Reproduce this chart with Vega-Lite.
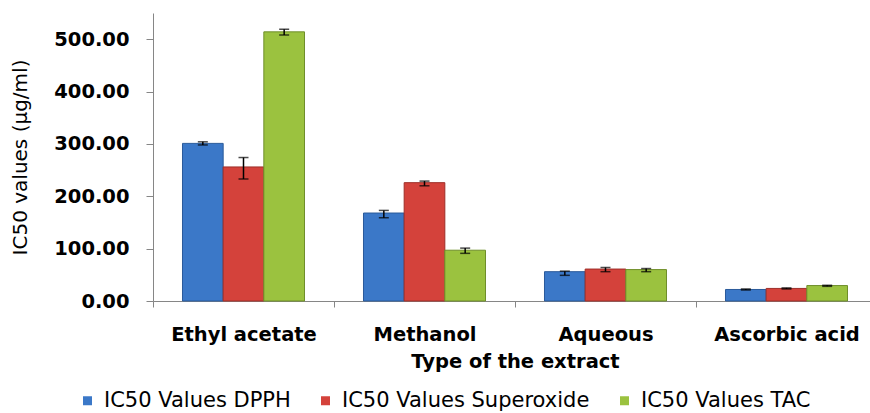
{
  "$schema": "https://vega.github.io/schema/vega-lite/v6.json",
  "width": 717,
  "height": 288,
  "autosize": {"type": "none"},
  "padding": {"left": 153, "top": 13, "right": 0, "bottom": 112},
  "background": "white",
  "config": {"view": {"stroke": null}, "font": "DejaVu Sans"},
  "data": {
    "values": [
      {"extract": "Ethyl acetate", "series": "IC50 Values DPPH", "value": 301, "lo": 298, "hi": 304},
      {"extract": "Ethyl acetate", "series": "IC50 Values Superoxide", "value": 256, "lo": 233, "hi": 274},
      {"extract": "Ethyl acetate", "series": "IC50 Values TAC", "value": 514, "lo": 508, "hi": 519},
      {"extract": "Methanol", "series": "IC50 Values DPPH", "value": 168, "lo": 159, "hi": 173},
      {"extract": "Methanol", "series": "IC50 Values Superoxide", "value": 226, "lo": 220, "hi": 229},
      {"extract": "Methanol", "series": "IC50 Values TAC", "value": 97, "lo": 91, "hi": 101},
      {"extract": "Aqueous", "series": "IC50 Values DPPH", "value": 56, "lo": 49, "hi": 57},
      {"extract": "Aqueous", "series": "IC50 Values Superoxide", "value": 61, "lo": 56, "hi": 64},
      {"extract": "Aqueous", "series": "IC50 Values TAC", "value": 60, "lo": 56, "hi": 62},
      {"extract": "Ascorbic acid", "series": "IC50 Values DPPH", "value": 22, "lo": 21, "hi": 23},
      {"extract": "Ascorbic acid", "series": "IC50 Values Superoxide", "value": 24, "lo": 23, "hi": 25},
      {"extract": "Ascorbic acid", "series": "IC50 Values TAC", "value": 29.5, "lo": 28, "hi": 30}
    ]
  },
  "encoding": {
    "x": {
      "field": "extract",
      "type": "nominal",
      "sort": ["Ethyl acetate", "Methanol", "Aqueous", "Ascorbic acid"],
      "scale": {"range": [0, 724], "paddingInner": 0, "paddingOuter": 0},
      "axis": {
        "title": "Type of the extract",
        "labelAngle": 0,
        "tickBand": "extent",
        "domainColor": "#868686",
        "tickColor": "#868686",
        "tickSize": 6,
        "labelPadding": 18,
        "labelFont": "DejaVu Sans",
        "labelFontWeight": "bold",
        "labelFontSize": 19.5,
        "labelColor": "black",
        "titleFont": "DejaVu Sans",
        "titleFontWeight": "bold",
        "titleFontSize": 19.5,
        "titleColor": "black",
        "titlePadding": 9,
        "grid": false
      }
    },
    "xOffset": {
      "field": "series",
      "type": "nominal",
      "sort": ["IC50 Values DPPH", "IC50 Values Superoxide", "IC50 Values TAC"],
      "scale": {"paddingOuter": 0.725, "paddingInner": 0}
    }
  },
  "layer": [
    {
      "mark": {"type": "bar", "strokeWidth": 1},
      "encoding": {
        "y": {
          "field": "value",
          "type": "quantitative",
          "title": "IC50 values (µg/ml)",
          "scale": {"domain": [0, 550], "nice": false},
          "axis": {
            "values": [0, 100, 200, 300, 400, 500],
            "format": ".2f",
            "grid": false,
            "domainColor": "#868686",
            "tickColor": "#868686",
            "tickSize": 7,
            "labelPadding": 17,
            "labelFont": "DejaVu Sans",
            "labelFontWeight": "bold",
            "labelFontSize": 19.5,
            "labelColor": "black",
            "titleFont": "DejaVu Sans",
            "titleFontWeight": "normal",
            "titleFontSize": 20,
            "titleColor": "black",
            "titlePadding": 23
          }
        },
        "color": {
          "field": "series",
          "type": "nominal",
          "sort": ["IC50 Values DPPH", "IC50 Values Superoxide", "IC50 Values TAC"],
          "scale": {"range": ["#3B78C8", "#D4423B", "#9BC23F"]},
          "legend": {
            "orient": "none",
            "legendX": -76,
            "legendY": 377,
            "direction": "horizontal",
            "title": null,
            "padding": 0,
            "symbolType": "square",
            "symbolSize": 81,
            "symbolStrokeWidth": 0,
            "labelFont": "DejaVu Sans",
            "labelFontSize": 21,
            "labelColor": "black",
            "labelOffset": 6,
            "columnPadding": 24,
            "labelLimit": 400
          }
        },
        "stroke": {
          "field": "series",
          "type": "nominal",
          "sort": ["IC50 Values DPPH", "IC50 Values Superoxide", "IC50 Values TAC"],
          "scale": {"range": ["#2A5A9A", "#9E2E28", "#6F8E2A"]},
          "legend": null
        }
      }
    },
    {
      "mark": {"type": "rule", "color": "black", "strokeWidth": 1.5},
      "encoding": {
        "y": {"field": "lo", "type": "quantitative", "title": "IC50 values (µg/ml)"},
        "y2": {"field": "hi"}
      }
    },
    {
      "mark": {"type": "tick", "color": "black", "thickness": 1.5, "size": 10},
      "encoding": {
        "y": {"field": "lo", "type": "quantitative", "title": "IC50 values (µg/ml)"}
      }
    },
    {
      "mark": {"type": "tick", "color": "black", "thickness": 1.5, "size": 10},
      "encoding": {
        "y": {"field": "hi", "type": "quantitative", "title": "IC50 values (µg/ml)"}
      }
    }
  ]
}
